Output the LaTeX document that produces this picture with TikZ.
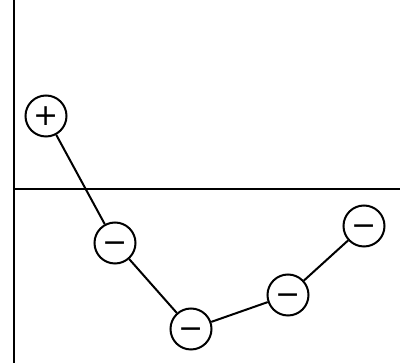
\documentclass[tikz,border=0pt]{standalone}
\usepackage{fontspec}
\setmainfont{DejaVu Sans}
\newcommand{\sgn}[1]{\fontsize{30pt}{30pt}\selectfont\smash{\raisebox{-0.31em}{#1}}}
\begin{document}
\begin{tikzpicture}[x=1pt,y=-1pt,
  charge/.style={circle,draw,line width=2pt,minimum size=41pt,inner sep=0pt,fill=white},
  axis/.style={line width=2.2pt},
  link/.style={line width=2pt}]
\useasboundingbox (0,0) rectangle (400,363);
\coordinate (vt) at (14,0);
\coordinate (vb) at (14,363);
\coordinate (hl) at (14,189);
\coordinate (hr) at (400,189);
\draw[axis] (vt) -- (vb);
\draw[axis] (hl) -- (hr);
\node[charge] (p1) at (46,116) {\sgn{+}};
\node[charge] (m1) at (115,243) {\sgn{−}};
\node[charge] (m2) at (191,329) {\sgn{−}};
\node[charge] (m3) at (288,295) {\sgn{−}};
\node[charge] (m4) at (364,226) {\sgn{−}};
\draw[link] (p1) -- (m1) -- (m2) -- (m3) -- (m4);
\end{tikzpicture}
\end{document}
